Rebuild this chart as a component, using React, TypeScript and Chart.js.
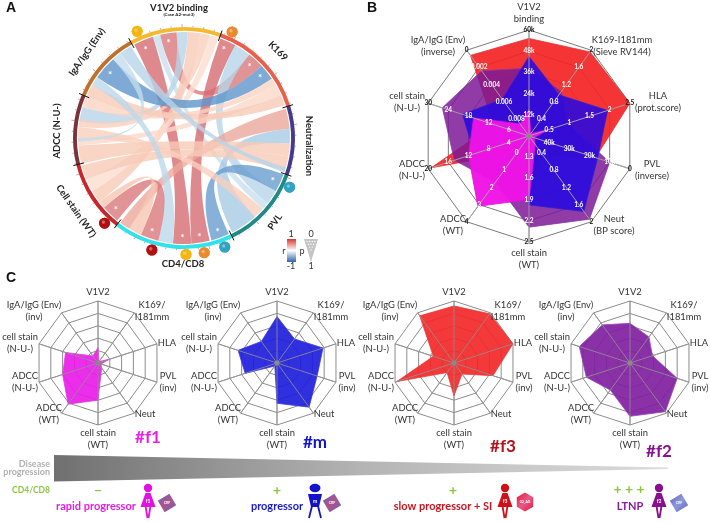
import React, { useEffect, useRef } from "react";
import { Chart, registerables } from "chart.js";

Chart.register(...registerables);

const W = 710;
const H = 523;
const FONT = "Lato, 'Open Sans', sans-serif";

// ---------- Radar data (rings 0-5) ----------
const axisLabels = [
  "V1V2", "K169/I181mm", "HLA", "PVL", "Neut", "cell stain (WT)", "ADCC (WT)", "ADCC (N-U-)", "cell stain (N-U-)", "IgA/IgG (Env)",
];
const f1Values = [1.25, 0.15, 0.95, 0.25, 0.5, 3, 4.1, 3, 2.75, 0.7];
const mValues = [3.75, 2.4, 3.9, 3.4, 4.4, 3.25, 0.3, 2.7, 3.3, 2.15];
const f3Values = [4.6, 4.9, 5, 3.3, 1.1, 2.65, 0.95, 4.85, 1.75, 4.7];
const f2Values = [3.2, 2.6, 1.9, 4.0, 4.85, 4.3, 2.7, 3.7, 4.3, 3.8];

// per-axis tick labels of panel B, ring 1 to ring 5
const bTicks = [
  ["12k", "24k", "36k", "48k", "60k"],
  ["0.4", "0.8", "1.2", "1.6", "2"],
  ["0.5", "1", "1.5", "2", "2.5"],
  ["40k", "30k", "20k", "10k", "0"],
  ["0.4", "0.8", "1.2", "1.6", "2"],
  ["1.3", "1.6", "1.9", "2.2", "2.5"],
  ["0", "1", "2", "3", "4"],
  ["4", "8", "12", "16", "20"],
  ["6", "12", "18", "24", "30"],
  ["0.008", "0.006", "0.004", "0.002", "0"],
];

const bAxisText: [string[], number, number][] = [
  [["V1V2", "binding"], 529, 7],
  [["K169-I181mm", "(Sieve RV144)"], 622, 40],
  [["HLA", "(prot.score)"], 658, 96],
  [["PVL", "(inverse)"], 652, 164],
  [["Neut", "(BP score)"], 614, 219],
  [["cell stain", "(WT)"], 529, 253],
  [["ADCC", "(WT)"], 453, 219],
  [["ADCC", "(N-U-)"], 412, 164],
  [["cell stain", "(N-U-)"], 407, 96],
  [["IgA/IgG (Env)", "(inverse)"], 438, 40],
];
const cAxisText: [string[], number, number][] = [
  [["V1V2"], 0, -71],
  [["K169/", "I181mm"], 54, -58],
  [["HLA"], 69, -20],
  [["PVL", "(inv)"], 70, 13],
  [["Neut"], 47, 51],
  [["cell stain", "(WT)"], 0, 70],
  [["ADCC", "(WT)"], -49, 45],
  [["ADCC", "(N-U-)"], -73, 13],
  [["cell stain", "(N-U-)"], -78, -26],
  [["IgA/IgG (Env)", "(inv)"], -64, -58],
];

// ---------- Chord data (degrees clockwise from the top) ----------
const sectorNames = ["V1V2 binding", "K169", "Neutralization", "PVL", "CD4/CD8", "Cell stain (WT)", "ADCC (N-U-)", "IgA/IgG (Env)"];
const sectorSizes = [48.5, 53.5, 36.6, 44.4, 63.7, 38.3, 37, 38];
const sectorColors = ["#f4b92f", "#e8604a", "#463a8c", "#1f8a88", "#30e2ea", "#c8262a", "#7a3338", "#c0702a"];
const sectorStart = -29;

// [from start, from end, to start, to end, r]
const chords: number[][] = [
  [-28, -17, 176, 186, 0.75],
  [-17, -13, 128, 132, -0.15],
  [-13, -4, 38, 47, 0.7],
  [-4, 2, 279, 287, -0.3],
  [2, 9, 233, 240, 0.3],
  [9, 14, 276, 280, 0.25],
  [14, 19, 240, 247, 0.1],
  [20, 29, 166, 176, 0.75],
  [29, 38, 120, 128, -0.3],
  [47, 56, 305, 318, -0.7],
  [56, 60, 287, 293, 0.2],
  [60, 66, 266, 270, 0.15],
  [66, 72, 293, 300, 0.3],
  [74, 85, 211, 217, 0.5],
  [85, 93, 138, 153, -0.4],
  [93, 100, 256, 266, 0.3],
  [100, 108, 247, 255, 0.3],
  [110, 120, 155, 165, -0.65],
  [132, 138, 270, 276, 0.25],
  [186, 194, 300, 305, -0.25],
  [194, 204, 219, 229, 0.7],
  [204, 211, 229, 233, 0.35],
  [318, 323, 268, 270, -0.2],
  [323, 330, 106, 109, -0.3],
];
const starAngles = [-23, -9, 24, 42, 51, 115, 160, 171, 181, 199, 224, 311];
const dotAngles = [-23.7, 24.4, 115, 223, 196, 179, 170, 159.5];
const dotColors = ["#f6b40e", "#ea8a2e", "#2fa3c0", "#b01010", "#b01010", "#f6b40e", "#ea8a2e", "#2fa3c0"];

type Txt = { s: string; x: number; y: number; font: string; color: string; align?: CanvasTextAlign; rot?: number };

function put(ctx: CanvasRenderingContext2D, t: Txt) {
  ctx.save();
  ctx.translate(t.x, t.y);
  if (t.rot) ctx.rotate((t.rot * Math.PI) / 180);
  ctx.font = t.font;
  ctx.fillStyle = t.color;
  ctx.textAlign = t.align || "center";
  ctx.textBaseline = "middle";
  ctx.fillText(t.s, 0, 0);
  ctx.restore();
}

function mix(a: number[], b: number[], t: number) {
  return a.map((v, i) => Math.round(v + (b[i] - v) * t));
}
function chordColor(r: number) {
  const t = Math.min(1, Math.abs(r) / 0.75);
  const low = r > 0 ? [253, 230, 218] : [224, 236, 246];
  const mid = r > 0 ? [247, 196, 176] : [172, 206, 230];
  const high = r > 0 ? [212, 108, 114] : [82, 140, 198];
  const c = t < 0.5 ? mix(low, mid, t * 2) : mix(mid, high, (t - 0.5) * 2);
  return `rgba(${c[0]},${c[1]},${c[2]},0.8)`;
}

const chordPlugin = {
  id: "chord",
  beforeDatasetsDraw(chart: any) {
    const ctx: CanvasRenderingContext2D = chart.ctx;
    const arc = chart.getDatasetMeta(0).data[0];
    const cx = arc.x, cy = arc.y, R = arc.outerRadius;
    const rr = R - 5;
    const ang = (d: number) => ((d - 90) * Math.PI) / 180;
    const px = (d: number, r: number) => [cx + r * Math.cos(ang(d)), cy + r * Math.sin(ang(d))];
    ctx.save();
    chords.forEach(([a0, a1, b0, b1, r]) => {
      ctx.beginPath();
      ctx.arc(cx, cy, rr, ang(a0), ang(a1));
      const p = px(b0, rr);
      ctx.quadraticCurveTo(cx, cy, p[0], p[1]);
      ctx.arc(cx, cy, rr, ang(b0), ang(b1));
      const q = px(a0, rr);
      ctx.quadraticCurveTo(cx, cy, q[0], q[1]);
      ctx.closePath();
      ctx.fillStyle = chordColor(r);
      ctx.fill();
    });
    ctx.restore();
  },
  afterDatasetsDraw(chart: any) {
    const ctx: CanvasRenderingContext2D = chart.ctx;
    const arc = chart.getDatasetMeta(0).data[0];
    const cx = arc.x, cy = arc.y, R = arc.outerRadius;
    const ang = (d: number) => ((d - 90) * Math.PI) / 180;
    const px = (d: number, r: number) => [cx + r * Math.cos(ang(d)), cy + r * Math.sin(ang(d))];
    ctx.save();
    // minor ticks
    ctx.strokeStyle = "#777";
    ctx.lineWidth = 0.6;
    let n = 0;
    for (let d = sectorStart; d < sectorStart + 360; d += 5.6) {
      const a = px(d, R);
      const b = px(d, R + (n % 5 === 0 ? 3 : 1.5));
      ctx.beginPath();
      ctx.moveTo(a[0], a[1]);
      ctx.lineTo(b[0], b[1]);
      ctx.stroke();
      n++;
    }
    // separators
    ctx.strokeStyle = "#111";
    ctx.lineWidth = 1;
    let acc = sectorStart;
    sectorSizes.forEach((s) => {
      const a = px(acc, R - 8);
      const b = px(acc, R + 3);
      ctx.beginPath();
      ctx.moveTo(a[0], a[1]);
      ctx.lineTo(b[0], b[1]);
      ctx.stroke();
      acc += s;
    });
    // significant-link stars
    starAngles.forEach((d) => {
      const p = px(d, R - 13);
      put(ctx, { s: "*", x: p[0], y: p[1] + 1.5, font: `bold 10px ${FONT}`, color: "#fff" });
    });
    // glossy dots
    dotAngles.forEach((d, i) => {
      const p = px(d, R + 5.5);
      const g = ctx.createRadialGradient(p[0] - 1.5, p[1] - 1.5, 0.5, p[0], p[1], 5.5);
      g.addColorStop(0, "#ffffff55");
      g.addColorStop(0.3, dotColors[i]);
      g.addColorStop(1, dotColors[i]);
      ctx.beginPath();
      ctx.arc(p[0], p[1], 5.5, 0, Math.PI * 2);
      ctx.fillStyle = dotColors[i];
      ctx.fill();
      ctx.fillStyle = g;
      ctx.fill();
    });
    ctx.restore();

    const bold = `bold 9.5px ${FONT}`;
    const dk = "#222";
    put(ctx, { s: "V1V2 binding", x: 179, y: 8, font: bold, color: dk });
    put(ctx, { s: "(Case A2-mut3)", x: 179, y: 15, font: `bold 4.5px ${FONT}`, color: dk });
    put(ctx, { s: "K169", x: 278, y: 51, font: bold, color: dk, rot: 45 });
    put(ctx, { s: "Neutralization", x: 309, y: 146, font: bold, color: dk, rot: 90 });
    put(ctx, { s: "PVL", x: 275, y: 222, font: bold, color: dk, rot: -55 });
    put(ctx, { s: "CD4/CD8", x: 183, y: 264, font: bold, color: dk });
    put(ctx, { s: "Cell stain (WT)", x: 76, y: 211, font: bold, color: dk, rot: 55 });
    put(ctx, { s: "ADCC (N-U-)", x: 57, y: 131, font: bold, color: dk, rot: -90 });
    put(ctx, { s: "IgA/IgG (Env)", x: 87, y: 52, font: bold, color: dk, rot: -55 });

    drawKey(ctx);
    drawPage(ctx);
  },
};

function drawKey(ctx: CanvasRenderingContext2D) {
  ctx.save();
  const g = ctx.createLinearGradient(0, 239, 0, 262);
  g.addColorStop(0, "#d8392f");
  g.addColorStop(0.5, "#fff");
  g.addColorStop(1, "#2f66a8");
  ctx.fillStyle = g;
  ctx.fillRect(287, 239, 9, 23);
  ctx.fillStyle = "#c4c4c4";
  ctx.beginPath();
  ctx.moveTo(304, 239);
  ctx.lineTo(318, 239);
  ctx.lineTo(311, 262);
  ctx.closePath();
  ctx.fill();
  ctx.fillStyle = "#fff";
  const rows = [4, 3, 2, 1];
  rows.forEach((c, r) => {
    for (let i = 0; i < c; i++) {
      ctx.beginPath();
      ctx.arc(311 + (i - (c - 1) / 2) * 2.6, 241.5 + r * 2.8, 0.7, 0, Math.PI * 2);
      ctx.fill();
    }
  });
  ctx.restore();
  const f = `9px ${FONT}`;
  put(ctx, { s: "1", x: 291, y: 234, font: f, color: "#333" });
  put(ctx, { s: "-1", x: 291, y: 266, font: f, color: "#333" });
  put(ctx, { s: "r", x: 284, y: 251, font: f, color: "#333" });
  put(ctx, { s: "p", x: 302, y: 251, font: f, color: "#333" });
  put(ctx, { s: "0", x: 311, y: 234, font: f, color: "#333" });
  put(ctx, { s: "1", x: 311, y: 266, font: f, color: "#333" });
}

function person(ctx: CanvasRenderingContext2D, x: number, color: string, tag: string, male: boolean) {
  ctx.save();
  ctx.fillStyle = color;
  ctx.strokeStyle = color;
  ctx.beginPath();
  if (male) ctx.ellipse(x, 488, 5.5, 4.2, 0, 0, Math.PI * 2);
  else ctx.arc(x, 488, 4.2, 0, Math.PI * 2);
  ctx.fill();
  ctx.beginPath();
  if (male) {
    ctx.moveTo(x - 7, 494);
    ctx.lineTo(x + 7, 494);
    ctx.lineTo(x + 4, 507);
    ctx.lineTo(x - 4, 507);
  } else {
    ctx.moveTo(x - 2.5, 493);
    ctx.lineTo(x + 2.5, 493);
    ctx.lineTo(x + 7.5, 507);
    ctx.lineTo(x - 7.5, 507);
  }
  ctx.closePath();
  ctx.fill();
  ctx.lineWidth = 1.8;
  ctx.beginPath();
  ctx.moveTo(x - (male ? 3 : 2.5), 506);
  ctx.lineTo(x - (male ? 6 : 0.5), 518);
  ctx.moveTo(x + (male ? 3 : 2.5), 506);
  ctx.lineTo(x + (male ? 6 : 0.5), 518);
  ctx.stroke();
  ctx.restore();
  put(ctx, { s: tag, x, y: 501, font: `bold 5px ${FONT}`, color: "#fff" });
}

function virus(ctx: CanvasRenderingContext2D, x: number, y: number, c1: string, c2: string, sides: number, tag: string) {
  ctx.save();
  const g = ctx.createLinearGradient(x - 8, y - 8, x + 8, y + 8);
  g.addColorStop(0, c1);
  g.addColorStop(0.5, c2);
  g.addColorStop(1, c1);
  ctx.fillStyle = g;
  ctx.beginPath();
  for (let i = 0; i < sides; i++) {
    const a = (i / sides) * Math.PI * 2 + (sides === 4 ? 0.25 : Math.PI / 2);
    const px = x + 9.5 * Math.cos(a);
    const py = y + 9.5 * Math.sin(a);
    if (i === 0) ctx.moveTo(px, py);
    else ctx.lineTo(px, py);
  }
  ctx.closePath();
  ctx.fill();
  ctx.restore();
  put(ctx, { s: tag, x, y, font: `bold 3.5px ${FONT}`, color: "#fff" });
}

function drawPage(ctx: CanvasRenderingContext2D) {
  // progression wedge
  ctx.save();
  const g = ctx.createLinearGradient(54, 0, 668, 0);
  g.addColorStop(0, "#707070");
  g.addColorStop(0.5, "#b4b4b4");
  g.addColorStop(1, "#dcdcdc");
  ctx.fillStyle = g;
  ctx.beginPath();
  ctx.moveTo(54, 455);
  ctx.lineTo(668, 467.5);
  ctx.lineTo(668, 469);
  ctx.lineTo(54, 481.5);
  ctx.closePath();
  ctx.fill();
  ctx.restore();

  const grayF = `bold 9px ${FONT}`;
  put(ctx, { s: "Disease", x: 50, y: 464, font: grayF, color: "#b0b0b0", align: "right" });
  put(ctx, { s: "progression", x: 50, y: 472, font: grayF, color: "#b0b0b0", align: "right" });
  const green = "#8cc63f";
  put(ctx, { s: "CD4/CD8", x: 50, y: 490, font: `bold 8.5px ${FONT}`, color: green, align: "right" });
  const plusF = `bold 14px ${FONT}`;
  put(ctx, { s: "\u2212", x: 98, y: 490, font: plusF, color: green });
  put(ctx, { s: "+", x: 277, y: 490, font: plusF, color: green });
  put(ctx, { s: "+", x: 453, y: 490, font: plusF, color: green });
  put(ctx, { s: "+ + +", x: 629, y: 489, font: plusF, color: green });

  const lab = `bold 11px ${FONT}`;
  put(ctx, { s: "rapid progressor", x: 96, y: 506.5, font: lab, color: "#e81ee8" });
  put(ctx, { s: "progressor", x: 277, y: 506.5, font: lab, color: "#1a1ad0" });
  put(ctx, { s: "slow progressor + SI", x: 443, y: 506, font: lab, color: "#c8161e" });
  put(ctx, { s: "LTNP", x: 630, y: 506, font: lab, color: "#8a1a9a" });

  person(ctx, 148, "#e012e0", "f1", false);
  person(ctx, 315, "#1212c8", "m", true);
  person(ctx, 505, "#d01018", "f3", false);
  person(ctx, 659, "#86108e", "f2", false);
  virus(ctx, 167, 503, "#6a6aa8", "#b0508e", 4, "CRF");
  virus(ctx, 332, 503, "#6a6aa8", "#b0508e", 4, "CRF");
  virus(ctx, 525, 502, "#e0203c", "#e8588a", 6, "02_AG");
  virus(ctx, 679, 503, "#6a6ab8", "#8a9ae0", 4, "CRF");

  const title = `bold 17px ${FONT}`;
  put(ctx, { s: "#f1", x: 148, y: 438, font: title, color: "#e81ee8" });
  put(ctx, { s: "#m", x: 315, y: 443, font: title, color: "#1414c8" });
  put(ctx, { s: "#f3", x: 503, y: 447, font: title, color: "#b81018" });
  put(ctx, { s: "#f2", x: 659, y: 452, font: title, color: "#86108e" });

  const letter = "bold 14px 'Liberation Sans', Arial, sans-serif";
  put(ctx, { s: "A", x: 11, y: 8, font: letter, color: "#111" });
  put(ctx, { s: "B", x: 372, y: 8, font: letter, color: "#111" });
  put(ctx, { s: "C", x: 11, y: 278, font: letter, color: "#111" });
}

function hubDot(ctx: CanvasRenderingContext2D, scale: any) {
  ctx.save();
  ctx.fillStyle = "#8a8a8a";
  ctx.beginPath();
  ctx.arc(scale.xCenter, scale.yCenter, 2.5, 0, Math.PI * 2);
  ctx.fill();
  ctx.restore();
}

const bPlugin = {
  id: "bText",
  afterDatasetsDraw(chart: any) {
    const ctx = chart.ctx;
    const scale = chart.scales.r;
    ctx.save();
    ctx.strokeStyle = "rgba(170,170,170,0.9)";
    ctx.lineWidth = 1;
    axisLabels.forEach((_, i) => {
      const p = scale.getPointPositionForValue(i, 5);
      ctx.beginPath();
      ctx.moveTo(scale.xCenter, scale.yCenter);
      ctx.lineTo(p.x, p.y);
      ctx.stroke();
    });
    ctx.restore();
    hubDot(ctx, scale);
    bTicks.forEach((row, i) => {
      row.forEach((s, k) => {
        const p = scale.getPointPositionForValue(i, k + 1);
        put(ctx, {
          s,
          x: p.x,
          y: p.y,
          font: `bold 6.5px ${FONT}`,
          color: k === 4 ? "#111" : "#fff",
        });
      });
    });
    bAxisText.forEach(([lines, x, y]) => {
      lines.forEach((s, j) => put(ctx, { s, x, y: y + j * 12.2, font: `9.4px ${FONT}`, color: "#333" }));
    });
  },
};

const cPlugin = {
  id: "cText",
  afterDatasetsDraw(chart: any) {
    const ctx = chart.ctx;
    const scale = chart.scales.r;
    ctx.save();
    ctx.strokeStyle = "rgba(150,150,150,0.9)";
    ctx.lineWidth = 0.9;
    axisLabels.forEach((_, i) => {
      const p = scale.getPointPositionForValue(i, 5);
      ctx.beginPath();
      ctx.moveTo(scale.xCenter, scale.yCenter);
      ctx.lineTo(p.x, p.y);
      ctx.stroke();
    });
    ctx.restore();
    hubDot(ctx, scale);
    cAxisText.forEach(([lines, dx, dy]) => {
      lines.forEach((s, j) =>
        put(ctx, { s, x: scale.xCenter + dx, y: scale.yCenter + dy + j * 12.2, font: `9.4px ${FONT}`, color: "#333" })
      );
    });
  },
};

function pad(cx: number, cy: number, R: number) {
  return { left: cx - R, right: W - cx - R, top: cy - R, bottom: H - cy - R };
}

function radarConfig(cx: number, cy: number, R: number, sets: any[], plugin: any, gridColor: string): any {
  return {
    type: "radar",
    data: { labels: axisLabels, datasets: sets },
    options: {
      responsive: false,
      animation: false,
      layout: { padding: pad(cx, cy, R) },
      plugins: { legend: { display: false }, tooltip: { enabled: false } },
      elements: { point: { radius: 0 }, line: { tension: 0, borderWidth: 0.8 } },
      scales: {
        r: {
          min: 0,
          max: 5,
          ticks: { display: false, stepSize: 1 },
          pointLabels: { display: false },
          grid: { color: gridColor, lineWidth: 1 },
          angleLines: { color: gridColor, lineWidth: 1 },
        },
      },
    },
    plugins: [plugin],
  };
}

function series(label: string, data: number[], fill: string, line: string) {
  return { label, data, backgroundColor: fill, borderColor: line, fill: true };
}

export default function App() {
  const a = useRef<HTMLCanvasElement>(null);
  const b = useRef<HTMLCanvasElement>(null);
  const c1 = useRef<HTMLCanvasElement>(null);
  const c2 = useRef<HTMLCanvasElement>(null);
  const c3 = useRef<HTMLCanvasElement>(null);
  const c4 = useRef<HTMLCanvasElement>(null);

  useEffect(() => {
    const charts: Chart[] = [];
    charts.push(
      new Chart(a.current as any, {
        type: "doughnut",
        data: {
          labels: sectorNames,
          datasets: [{ data: sectorSizes, backgroundColor: sectorColors, borderWidth: 0 }],
        },
        options: {
          responsive: false,
          animation: false,
          rotation: sectorStart,
          cutout: "96.5%",
          layout: { padding: pad(184, 138, 111) },
          plugins: { legend: { display: false }, tooltip: { enabled: false } },
        },
        plugins: [chordPlugin],
      } as any)
    );
    charts.push(
      new Chart(
        b.current as any,
        radarConfig(
          529,
          136,
          106,
          [
            series("#f1", f1Values, "rgba(240,20,230,0.97)", "#e010d8"),
            series("#m", mValues, "rgba(40,10,225,0.88)", "#3020d0"),
            series("#f2", f2Values, "rgba(125,25,150,0.85)", "#8a3aa8"),
            series("#f3", f3Values, "rgba(244,36,36,0.92)", "#e03030"),
          ],
          bPlugin,
          "#7a7a7a"
        )
      )
    );
    const small = [
      [c1, 98, "#f1", f1Values, "rgba(232,28,232,0.92)", "#e040e0"],
      [c2, 277, "#m", mValues, "rgba(30,30,220,0.92)", "#3a3ae0"],
      [c3, 454, "#f3", f3Values, "rgba(242,40,40,0.92)", "#e83a3a"],
      [c4, 630, "#f2", f2Values, "rgba(128,32,160,0.92)", "#9a40c0"],
    ] as any[];
    small.forEach(([ref, cx, name, vals, fill, line]) => {
      charts.push(new Chart(ref.current, radarConfig(cx, 363, 62, [series(name, vals, fill, line)], cPlugin, "#8c8c8c")));
    });
    return () => charts.forEach((ch) => ch.destroy());
  }, []);

  const style: React.CSSProperties = { position: "absolute", left: 0, top: 0, display: "block" };
  return (
    <div style={{ position: "fixed", left: 0, top: 0, width: W, height: H, background: "#fff" }}>
      {[a, b, c1, c2, c3, c4].map((r, i) => (
        <canvas key={i} ref={r} width={W} height={H} style={style} />
      ))}
    </div>
  );
}
